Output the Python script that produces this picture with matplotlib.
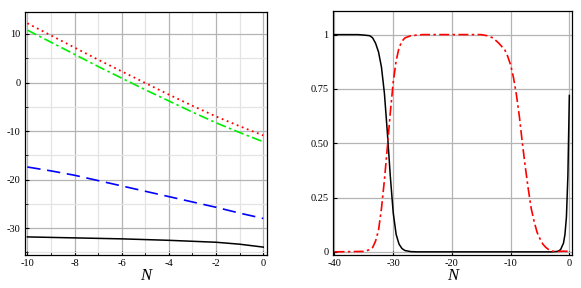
import matplotlib
matplotlib.use("Agg")
import matplotlib.pyplot as plt
from matplotlib.ticker import MultipleLocator, FixedLocator

matplotlib.rcParams['font.family'] = ['Liberation Serif', 'DejaVu Serif']
matplotlib.rcParams['axes.unicode_minus'] = False

# left panel: values read at integer N
n_left = [-10, -9, -8, -7, -6, -5, -4, -3, -2, -1, 0]
red_left = [12.2, 9.7, 7.2, 4.7, 2.3, -0.1, -2.5, -4.8, -7.0, -9.0, -10.9]
green_left = [10.8, 8.3, 5.8, 3.3, 0.9, -1.5, -3.8, -6.1, -8.3, -10.3, -12.2]
blue_left = [-17.4, -18.2, -19.1, -20.2, -21.3, -22.4, -23.5, -24.6, -25.7, -26.9, -28.0]
black_left = [-31.8, -31.9, -32.0, -32.1, -32.2, -32.35, -32.5, -32.7, -32.9, -33.3, -33.9]

# right panel
n_black = [-40, -36, -35, -34, -33.5, -33, -32.5, -32, -31.5, -31, -30.5, -30, -29.5,
           -29, -28.5, -28, -27, -26, -20, -10, -3, -2, -1.5, -1, -0.75, -0.5, -0.25, 0]
black_right = [1, 1, 0.998, 0.995, 0.985, 0.96, 0.92, 0.85, 0.73, 0.55, 0.35, 0.18, 0.08,
               0.035, 0.015, 0.006, 0.001, 0, 0, 0, 0, 0.002, 0.01, 0.04, 0.08, 0.16, 0.35, 0.72]
n_red = [-40, -35, -34, -33.5, -33, -32.5, -32, -31.5, -31, -30.5, -30, -29.5, -29, -28.5,
         -28, -27, -25, -15, -14, -13, -12, -11, -10.5, -10, -9.5, -9, -8.5, -8, -7.5,
         -7, -6.5, -6, -5.5, -5, -4.5, -4, -3.5, -3, -2.5, -2, -1, 0]
red_right = [0, 0.002, 0.01, 0.02, 0.05, 0.1, 0.2, 0.33, 0.48, 0.64, 0.78, 0.88, 0.94, 0.97,
             0.985, 0.995, 1, 1, 0.995, 0.985, 0.96, 0.93, 0.9, 0.86, 0.8, 0.72, 0.62, 0.5, 0.39,
             0.29, 0.2, 0.14, 0.09, 0.06, 0.035, 0.02, 0.01, 0.004, 0.001, 0.002, 0.003, 0.002]

fig = plt.figure(figsize=(5.81, 2.88), dpi=100)
ax1 = fig.add_axes([0.043, 0.115, 0.417, 0.843])
ax2 = fig.add_axes([0.573, 0.115, 0.411, 0.847])

# left
ax1.plot(n_left, red_left, color='red', ls=(0, (1, 2)), lw=1.3)
ax1.plot(n_left, green_left, color='#00ee00', ls=(0, (6, 2, 1.5, 2)), lw=1.2)
ax1.plot(n_left, blue_left, color='blue', ls=(0, (8, 4)), lw=1.2)
ax1.plot(n_left, black_left, color='black', lw=1.1)
ax1.set_xlim(-10.1, 0.17)
ax1.set_ylim(-35.5, 14.5)
ax1.xaxis.set_major_locator(MultipleLocator(2))
ax1.xaxis.set_minor_locator(MultipleLocator(1))
ax1.yaxis.set_major_locator(MultipleLocator(10))
ax1.yaxis.set_minor_locator(MultipleLocator(5))
ax1.grid(which='major', color='#b4b4b4', lw=0.9)
ax1.grid(which='minor', color='#e4e4e4', lw=0.9)

# right
ax2.plot(n_black, black_right, color='black', lw=1.1)
ax2.plot(n_red, red_right, color='red', ls=(0, (6, 2, 1.5, 2)), lw=1.2)
ax2.set_xlim(-40.27, 0.4)
ax2.set_ylim(-0.014, 1.109)
ax2.xaxis.set_major_locator(MultipleLocator(10))
ax2.yaxis.set_major_locator(FixedLocator([0, 0.25, 0.5, 0.75, 1]))
ax2.set_yticklabels(['0', '0.25', '0.50', '0.75', '1'])
ax2.grid(which='major', color='#b4b4b4', lw=0.9)

for ax in (ax1, ax2):
    ax.set_axisbelow(True)
    ax.tick_params(which='both', direction='in', labelsize=7.5, pad=3)
    ax.tick_params(which='major', length=3)
    ax.tick_params(which='minor', length=2)
    for s in ax.spines.values():
        s.set_linewidth(0.9)
    ax.set_xlabel('N', fontsize=12, fontstyle='italic', labelpad=0)

fig.savefig('out.png', dpi=100)
